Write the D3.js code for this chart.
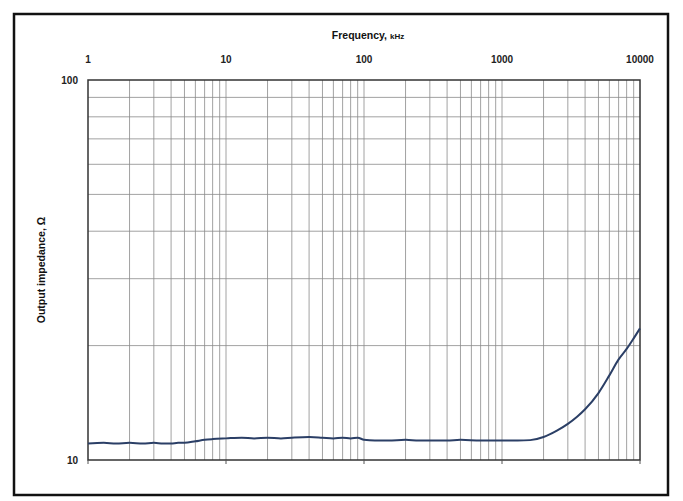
<!DOCTYPE html>
<html lang="en">
  <head>
    <meta charset="UTF-8" />
    <title>Output impedance vs frequency</title>
    <script src="https://cdn.jsdelivr.net/npm/d3@7/dist/d3.min.js"></script>
    <style>
      body { margin: 0; background: #fff; }
      svg { display: block; }
    </style>
  </head>
  <body>
    <div id="main-div"></div>
    <script>
      // frequency in kHz, impedance in ohm
      let freqs = [1, 1.3, 1.6, 2, 2.5, 3, 3.5, 4, 4.5, 5, 6, 7, 8, 10, 13, 16, 20, 25, 30, 40,
        50, 60, 70, 80, 90, 100, 120, 150, 200, 250, 300, 400, 500, 700, 1000, 1300, 1600,
        2000, 2500, 3000, 3500, 4000, 5000, 6000, 7000, 8000, 9000, 10000];
      let impedance = [11.05, 11.1, 11.05, 11.1, 11.05, 11.1, 11.05, 11.05, 11.1, 11.1, 11.2,
        11.3, 11.35, 11.4, 11.45, 11.4, 11.45, 11.4, 11.45, 11.5, 11.45, 11.4, 11.45, 11.4,
        11.45, 11.3, 11.25, 11.25, 11.3, 11.25, 11.25, 11.25, 11.3, 11.25, 11.25, 11.25, 11.28,
        11.5, 11.95, 12.45, 13.0, 13.6, 15.0, 16.7, 18.4, 19.6, 20.9, 22.2];
      let xTickLabels = [1, 10, 100, 1000, 10000];
      let yTickLabels = [10, 100];

      let width = 683;
      let height = 501;
      let plotLeft = 88, plotRight = 640, plotTop = 80, plotBottom = 460;

      let svg = d3
        .select("#main-div")
        .append("svg")
        .attr("width", width)
        .attr("height", height)
        .style("font-family", "'Liberation Sans', Arial, sans-serif");

      // outer frame
      svg
        .append("rect")
        .attr("x", 14)
        .attr("y", 14)
        .attr("width", 654)
        .attr("height", 481)
        .attr("fill", "#fff")
        .attr("stroke", "#111")
        .attr("stroke-width", 2.5);

      let x = d3.scaleLog().domain([1, 10000]).range([plotLeft, plotRight]);
      let y = d3.scaleLog().domain([10, 100]).range([plotBottom, plotTop]);

      // minor + major grid lines
      let xGrid = [];
      for (let d = 1; d < 10000; d *= 10) {
        for (let k = 1; k <= 9; k++) xGrid.push(d * k);
      }
      let yGrid = [20, 30, 40, 50, 60, 70, 80, 90];

      svg
        .append("g")
        .selectAll("line")
        .data(xGrid.filter((v) => v > 1))
        .join("line")
        .attr("x1", (d) => x(d))
        .attr("x2", (d) => x(d))
        .attr("y1", plotTop)
        .attr("y2", plotBottom)
        .attr("stroke", "#8a8a8a")
        .attr("stroke-width", 0.8);

      svg
        .append("g")
        .selectAll("line")
        .data(yGrid)
        .join("line")
        .attr("x1", plotLeft)
        .attr("x2", plotRight)
        .attr("y1", (d) => y(d))
        .attr("y2", (d) => y(d))
        .attr("stroke", "#8a8a8a")
        .attr("stroke-width", 0.8);

      // plot frame
      svg
        .append("rect")
        .attr("x", plotLeft)
        .attr("y", plotTop)
        .attr("width", plotRight - plotLeft)
        .attr("height", plotBottom - plotTop)
        .attr("fill", "none")
        .attr("stroke", "#333")
        .attr("stroke-width", 1.5);

      // small ticks below the bottom edge at decades
      svg
        .append("g")
        .selectAll("line")
        .data(xTickLabels)
        .join("line")
        .attr("x1", (d) => x(d))
        .attr("x2", (d) => x(d))
        .attr("y1", plotBottom)
        .attr("y2", plotBottom + 4)
        .attr("stroke", "#555")
        .attr("stroke-width", 1);

      // x tick labels on top
      svg
        .append("g")
        .selectAll("text")
        .data(xTickLabels)
        .join("text")
        .attr("x", (d) => x(d))
        .attr("y", 63)
        .attr("text-anchor", "middle")
        .attr("font-size", 10)
        .attr("font-weight", "bold")
        .attr("fill", "#222")
        .text((d) => d);

      // y tick labels
      svg
        .append("g")
        .selectAll("text")
        .data(yTickLabels)
        .join("text")
        .attr("x", 78)
        .attr("y", (d) => y(d) + 4)
        .attr("text-anchor", "end")
        .attr("font-size", 10)
        .attr("font-weight", "bold")
        .attr("fill", "#222")
        .text((d) => d);

      // axis titles
      let xt = svg
        .append("text")
        .attr("x", 368)
        .attr("y", 39)
        .attr("text-anchor", "middle")
        .attr("font-size", 10.5)
        .attr("font-weight", "bold")
        .attr("fill", "#111");
      xt.append("tspan").text("Frequency, ");
      xt.append("tspan").attr("font-size", 8).text("kHz");

      svg
        .append("text")
        .attr("transform", "translate(45,270) rotate(-90)")
        .attr("text-anchor", "middle")
        .attr("font-size", 10.5)
        .attr("font-weight", "bold")
        .attr("fill", "#111")
        .text("Output impedance, Ω");

      // data line
      let line = d3
        .line()
        .x((d, i) => x(freqs[i]))
        .y((d) => y(d))
        .curve(d3.curveMonotoneX);

      svg
        .append("path")
        .datum(impedance)
        .attr("d", line)
        .attr("fill", "none")
        .attr("stroke", "#2b3f66")
        .attr("stroke-width", 2)
        .attr("stroke-linejoin", "round");
    </script>
  </body>
</html>
